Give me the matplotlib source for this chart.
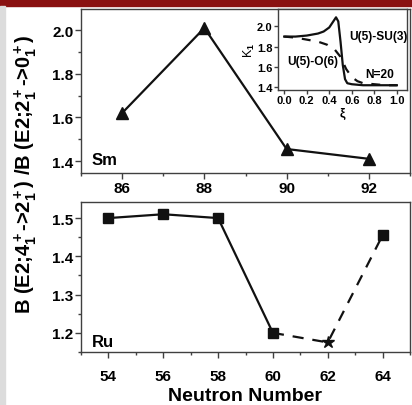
import matplotlib
matplotlib.use("Agg")
from matplotlib import pyplot as plt
from matplotlib.patches import Rectangle
from matplotlib.ticker import MultipleLocator

plt.rcParams['font.family'] = ['Liberation Sans', 'DejaVu Sans']
plt.rcParams['font.weight'] = 'bold'
plt.rcParams['mathtext.fontset'] = 'custom'
plt.rcParams['mathtext.rm'] = 'Liberation Sans:bold'
plt.rcParams['mathtext.bf'] = 'Liberation Sans:bold'
plt.rcParams['mathtext.it'] = 'Liberation Sans:bold'
plt.rcParams['mathtext.default'] = 'bf'

# Sm panel
sm_n = [86, 88, 90, 92]
sm_ratio = [1.62, 2.01, 1.455, 1.41]

# Ru panel: solid part then dashed part (the 62 point is a star)
ru_n = [54, 56, 58, 60]
ru_ratio = [1.50, 1.51, 1.50, 1.20]
ru_dash_n = [60, 62, 64]
ru_dash_ratio = [1.20, 1.175, 1.455]

# inset curves, N=20
su3_xi = [0.0, 0.1, 0.2, 0.3, 0.35, 0.4, 0.43, 0.46, 0.48, 0.5, 0.52, 0.54, 0.56, 0.6, 0.7, 0.8, 0.9, 1.0]
su3_k = [1.90, 1.90, 1.91, 1.93, 1.95, 1.99, 2.04, 2.09, 2.05, 1.85, 1.62, 1.48, 1.44, 1.43, 1.42, 1.42, 1.42, 1.42]
o6_xi = [0.0, 0.1, 0.2, 0.3, 0.38, 0.45, 0.5, 0.55, 0.6, 0.65, 0.7, 0.8, 0.9, 1.0]
o6_k = [1.90, 1.89, 1.87, 1.85, 1.82, 1.77, 1.70, 1.58, 1.50, 1.46, 1.44, 1.43, 1.42, 1.42]

W, H = 412, 406
fig = plt.figure(figsize=(W / 100, H / 100), dpi=100, facecolor='white')

# backdrop bits of the screenshot
fig.patches.append(Rectangle((0, 1 - 7 / H), 1, 7 / H, transform=fig.transFigure,
                             color='#8a1111', zorder=0))
fig.patches.append(Rectangle((0, 0), 5 / W, 1 - 7 / H, transform=fig.transFigure,
                             color='#dcdcdc', zorder=0))

spine_col = '#404040'


def style(ax, pad):
    for s in ax.spines.values():
        s.set_color(spine_col)
        s.set_linewidth(1.0)
    ax.tick_params(which='major', direction='out', length=4, width=1,
                   color=spine_col, labelsize=11, pad=pad)
    ax.tick_params(which='minor', direction='out', length=2.5, width=1, color=spine_col)
    ax.tick_params(axis='y', pad=1.5)
    for lab in ax.get_xticklabels() + ax.get_yticklabels():
        lab.set_fontweight('bold')


ax1 = fig.add_axes([81 / W, 1 - 174 / H, 329 / W, 164 / H])
ax1.plot(sm_n, sm_ratio, '-', color='#111111', lw=1.6, marker='^', ms=9)
ax1.set_xlim(85, 93)
ax1.set_ylim(1.345, 2.097)
ax1.xaxis.set_major_locator(MultipleLocator(2))
ax1.xaxis.set_minor_locator(MultipleLocator(1))
ax1.yaxis.set_major_locator(MultipleLocator(0.2))
ax1.yaxis.set_minor_locator(MultipleLocator(0.1))
ax1.yaxis.set_major_formatter(plt.FormatStrFormatter('%.1f'))
style(ax1, 1.5)
ax1.text(92 / W, 1 - 165 / H, 'Sm', transform=fig.transFigure, fontsize=12, fontweight='bold')

ax2 = fig.add_axes([81 / W, 1 - 353 / H, 329 / W, 150 / H])
ax2.plot(ru_n, ru_ratio, '-', color='#111111', lw=1.6, marker='s', ms=7.5)
ax2.plot(ru_dash_n, ru_dash_ratio, color='#111111', lw=1.6, dashes=(5, 4))
ax2.plot(ru_dash_n[2:], ru_dash_ratio[2:], 's', color='#111111', ms=7.5)
ax2.plot(ru_dash_n[1:2], ru_dash_ratio[1:2], '*', color='#111111', ms=9)
ax2.set_xlim(53, 65)
ax2.set_ylim(1.15, 1.542)
ax2.xaxis.set_major_locator(MultipleLocator(2))
ax2.xaxis.set_minor_locator(MultipleLocator(1))
ax2.yaxis.set_major_locator(MultipleLocator(0.1))
ax2.yaxis.set_minor_locator(MultipleLocator(0.05))
ax2.yaxis.set_major_formatter(plt.FormatStrFormatter('%.1f'))
style(ax2, 8)
ax2.set_xlabel('Neutron Number', fontsize=14, fontweight='bold', labelpad=3)
ax2.text(92 / W, 1 - 347 / H, 'Ru', transform=fig.transFigure, fontsize=12, fontweight='bold')

fig.text(26 / W, 1 - 174 / H,
         r'B $($E2;4$_1^+$->2$_1^+$$)$ /B $($E2;2$_1^+$->0$_1^+$$)$',
         rotation=90, ha='center', va='center', fontsize=14.5, fontweight='bold')

ins = fig.add_axes([278 / W, 1 - 90.7 / H, 129 / W, 81.2 / H])
ins.plot(su3_xi, su3_k, '-', color='#111111', lw=1.6)
ins.plot(o6_xi, o6_k, color='#111111', lw=1.6, dashes=(4, 4))
ins.set_xlim(-0.055, 1.09)
ins.set_ylim(1.376, 2.177)
ins.xaxis.set_major_locator(MultipleLocator(0.2))
ins.yaxis.set_major_locator(MultipleLocator(0.2))
ins.xaxis.set_major_formatter(plt.FormatStrFormatter('%.1f'))
ins.yaxis.set_major_formatter(plt.FormatStrFormatter('%.1f'))
for s in ins.spines.values():
    s.set_color(spine_col)
    s.set_linewidth(1.0)
ins.tick_params(direction='out', length=3, width=1, color=spine_col, labelsize=8, pad=1)
for lab in ins.get_xticklabels() + ins.get_yticklabels():
    lab.set_fontweight('bold')
ins.set_xlabel(r'$\xi$', fontsize=9, labelpad=0)
ins.set_ylabel(r'K$_1$', fontsize=9, labelpad=0)
ins.text(349 / W, 1 - 37 / H, 'U(5)-SU(3)', transform=fig.transFigure,
         fontsize=8.6, fontweight='bold', va='center')
ins.text(287 / W, 1 - 62 / H, 'U(5)-O(6)', transform=fig.transFigure,
         fontsize=8.6, fontweight='bold', va='center')
ins.text(365 / W, 1 - 75 / H, 'N=20', transform=fig.transFigure,
         fontsize=8.6, fontweight='bold', va='center')

fig.savefig('out.png', dpi=100)
